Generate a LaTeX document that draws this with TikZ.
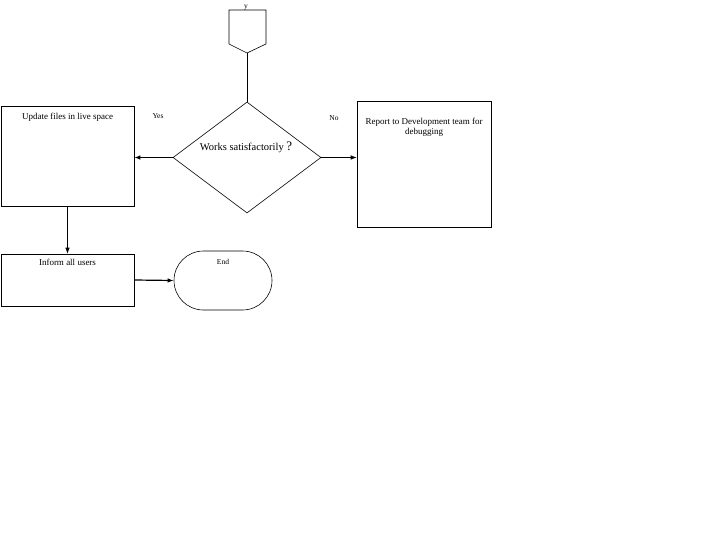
\documentclass[tikz,border=0pt]{standalone}
\usepackage{fontspec}
\setmainfont{Liberation Serif}
\usetikzlibrary{arrows.meta,positioning,shapes.geometric,shapes.misc}

\begin{document}
\begin{tikzpicture}[x=1pt, y=-1pt,
    every path/.style={line width=0.6pt},
    box/.style={draw, minimum width=133pt, inner sep=0pt, font=\fontsize{9}{10}\selectfont},
    decision/.style={draw, diamond, minimum width=148pt, minimum height=111pt, inner sep=0pt},
    terminal/.style={draw, rounded rectangle, minimum width=98pt, minimum height=59pt, inner sep=0pt},
    arrow/.style={-{Latex[length=6pt, width=4.5pt]}},
    tag/.style={font=\fontsize{7.5}{9}\selectfont, inner sep=0pt},
  ]
    \useasboundingbox (0,0) rectangle (720,540);

    % off-page connector
    \draw (229,10) -- (266,10) -- (266,44) -- (247,53) -- (229,44) -- cycle;
    \node[tag, anchor=north] (ylab) at (246,5) {y};
    \coordinate (ytip) at (247,53);

    \node[decision] (works) at (247,157.5) {};
    \node[font=\fontsize{10.5}{12}\selectfont, inner sep=0pt] (workstxt) at (246,147)
      {Works satisfactorily {\fontsize{13}{14}\selectfont ?}};

    \node[box, minimum height=100pt] (update) at (67.5,156) {};
    \node[box, draw=none, anchor=north] (updatetxt) at (update.north) [yshift=-7pt] {Update files in live space};

    \node[box, minimum width=134pt, minimum height=126pt] (report) at (424,164) {};
    \node[box, draw=none, anchor=north, align=center] (reporttxt) at (report.north) [yshift=-17pt]
      {Report to Development team for\\debugging};

    \node[box, minimum height=52pt] (inform) at (67.5,280) {};
    \node[box, draw=none, anchor=north] (informtxt) at (inform.north) [yshift=-5pt] {Inform all users};

    \node[terminal] (stop) at (223,280.5) {};
    \node[tag, anchor=north] (stoptxt) at (stop.north) [yshift=-8pt] {End};

    \node[tag] (yes) at (158,116) {Yes};
    \node[tag] (no) at (334,118) {No};

    \draw (ytip) -- (works.north);
    \draw (works.west) -- ++(-16,0) coordinate (bend);
    \draw[arrow, line width=1.2pt] (bend) -- (update.east |- bend);
    \draw[arrow] (works.east) -- (report.west |- works.east);
    \draw[arrow] (update.south) -- (inform.north);
    \draw[arrow, line width=1.2pt] (inform.east) -- (stop.west);
  \end{tikzpicture}
\end{document}
